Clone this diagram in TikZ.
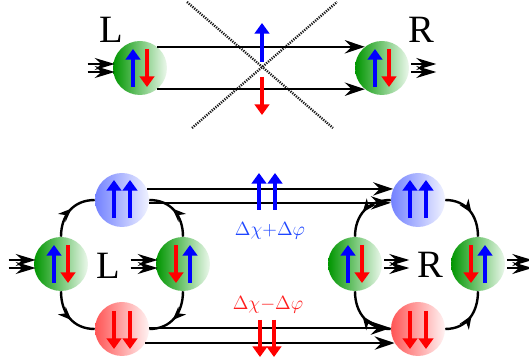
\documentclass[tikz,border=0pt]{standalone}
\usepackage{fontspec}
\setmainfont{Liberation Serif}
\usetikzlibrary{arrows.meta,calc,decorations.markings}
\definecolor{spinB}{RGB}{0,0,255}
\definecolor{spinR}{RGB}{255,0,0}
\definecolor{gL}{RGB}{0,150,0}
\definecolor{gR}{RGB}{236,248,236}
\definecolor{bL}{RGB}{115,130,255}
\definecolor{bR}{RGB}{240,242,255}
\definecolor{rL}{RGB}{255,85,85}
\definecolor{rR}{RGB}{255,243,243}
\definecolor{labB}{RGB}{30,70,255}
\definecolor{labR}{RGB}{255,30,30}
\newcommand{\spinUD}[1]{%
  \draw[bsp] ($(#1)+(-7,-19)$) -- ($(#1)+(-7,19)$);
  \draw[rsp] ($(#1)+(7,19)$) -- ($(#1)+(7,-19)$);}
\newcommand{\spinDU}[1]{%
  \draw[rsp] ($(#1)+(-7,19)$) -- ($(#1)+(-7,-19)$);
  \draw[bsp] ($(#1)+(7,-19)$) -- ($(#1)+(7,19)$);}
\newcommand{\spinUU}[1]{%
  \draw[bsp] ($(#1)+(-8,-18)$) -- ($(#1)+(-8,20)$);
  \draw[bsp] ($(#1)+(8,-18)$) -- ($(#1)+(8,20)$);}
\newcommand{\spinDD}[1]{%
  \draw[rsp] ($(#1)+(-8,18)$) -- ($(#1)+(-8,-20)$);
  \draw[rsp] ($(#1)+(8,18)$) -- ($(#1)+(8,-20)$);}
\newcommand{\dblIn}[1]{%
  \draw[dbl] ($(#1.west)+(-25,4)$) -- ($(#1.west)+(2,4)$);
  \draw[dbl] ($(#1.west)+(-25,-4)$) -- ($(#1.west)+(2,-4)$);}
\newcommand{\dblOut}[1]{%
  \draw[dbl] ($(#1.east)+(2,4)$) -- ($(#1.east)+(27,4)$);
  \draw[dbl] ($(#1.east)+(2,-4)$) -- ($(#1.east)+(27,-4)$);}
\begin{document}
\begin{tikzpicture}[x=0.75pt,y=0.75pt,
  ball/.style={circle,inner sep=0pt,minimum size=40.5pt},
  gball/.style={ball,left color=gL,right color=gR},
  bball/.style={ball,left color=bL,right color=bR},
  rball/.style={ball,left color=rL,right color=rR},
  bsp/.style={spinB,line width=3.3pt,-{Triangle[length=8pt,width=11pt]}},
  rsp/.style={spinR,line width=3.3pt,-{Triangle[length=8pt,width=11pt]}},
  conn/.style={line width=1.8pt,-{Stealth[length=15pt,width=10pt,inset=5pt]}},
  ring/.style={line width=1.8pt,looseness=1.1,postaction={decorate},
    decoration={markings,mark=at position 0.55 with {\arrow{Stealth[length=10pt,width=8pt,inset=3pt]}}}},
  dbl/.style={line width=1.5pt,-{Stealth[length=15pt,width=9pt,inset=5pt]}},
  xline/.style={line width=1.8pt,black!90,dash pattern=on 0.9pt off 0.9pt},
  big/.style={font=\fontsize{29}{34}\selectfont},
  lab/.style={font=\fontsize{15}{18}\selectfont}
]
\useasboundingbox (0,0) rectangle (529,364);
% ---------- top part ----------
\draw[xline] (187,362) coordinate (xa) -- (333,236) coordinate (xb);
\draw[xline] (192,236) coordinate (xc) -- (337,362) coordinate (xd);
\node[gball] (tl) at (140,296) {};
\node[gball] (tr) at (382,296) {};
\node[big] (tlL) at (111,334) {L};
\node[big] (trR) at (421,334) {R};
\draw[conn] (tl.51) -- (tr.129);
\draw[conn] (tl.-51) -- (tr.-129);
\dblIn{tl}
\dblOut{tr}
\spinUD{tl}
\spinUD{tr}
\coordinate (mt) at (262,295);
\draw[bsp] ($(mt)+(0,7)$) -- ($(mt)+(0,46)$);
\draw[rsp] ($(mt)+(0,-8)$) -- ($(mt)+(0,-46)$);
% ---------- bottom part, left ring ----------
\node[gball] (lg) at (61,100) {};
\node[bball] (lb) at (122,164) {};
\node[gball] (lr) at (183,100) {};
\node[rball] (ld) at (122,35) {};
\node[big] (Lb) at (108,98) {L};
\draw[ring] (lg) to[out=90,in=180] (lb);
\draw[ring] (lr) to[out=90,in=0] (lb);
\draw[ring] (lg) to[out=-90,in=180] (ld);
\draw[ring] (lr) to[out=-90,in=0] (ld);
% ---------- bottom part, right ring ----------
\node[gball] (rg) at (355,100) {};
\node[bball] (rb) at (418,164) {};
\node[gball] (rr) at (478,100) {};
\node[rball] (rd) at (418,35) {};
\node[big] (Rb) at (430,99) {R};
\draw[ring] (rb) to[out=180,in=90] (rg);
\draw[ring] (rb) to[out=0,in=90] (rr);
\draw[ring] (rd) to[out=180,in=-90] (rg);
\draw[ring] (rd) to[out=0,in=-90] (rr);
% ---------- channels ----------
\draw[conn] (lb.24) -- (rb.156);
\draw[conn] (lb.-6) -- (rb.186);
\draw[conn] (ld.2) -- (rd.178);
\draw[conn] (ld.-31) -- (rd.-149);
\dblIn{lg}
\dblIn{lr}
\dblOut{rg}
\dblOut{rr}
\spinUD{lg}
\spinDU{lr}
\spinUU{lb}
\spinDD{ld}
\spinUD{rg}
\spinDU{rr}
\spinUU{rb}
\spinDD{rd}
\coordinate (mb) at (267,172);
\draw[bsp] ($(mb)+(-8,-18)$) -- ($(mb)+(-8,19)$);
\draw[bsp] ($(mb)+(8,-18)$) -- ($(mb)+(8,19)$);
\coordinate (md) at (267,26);
\draw[rsp] ($(md)+(-7,18)$) -- ($(md)+(-7,-19)$);
\draw[rsp] ($(md)+(7,18)$) -- ($(md)+(7,-19)$);
\node[lab,text=labB] (lp) at (270,133) {$\Delta\chi{+}\Delta\varphi$};
\node[lab,text=labR] (lm) at (268,59) {$\Delta\chi{-}\Delta\varphi$};
\end{tikzpicture}
\end{document}
